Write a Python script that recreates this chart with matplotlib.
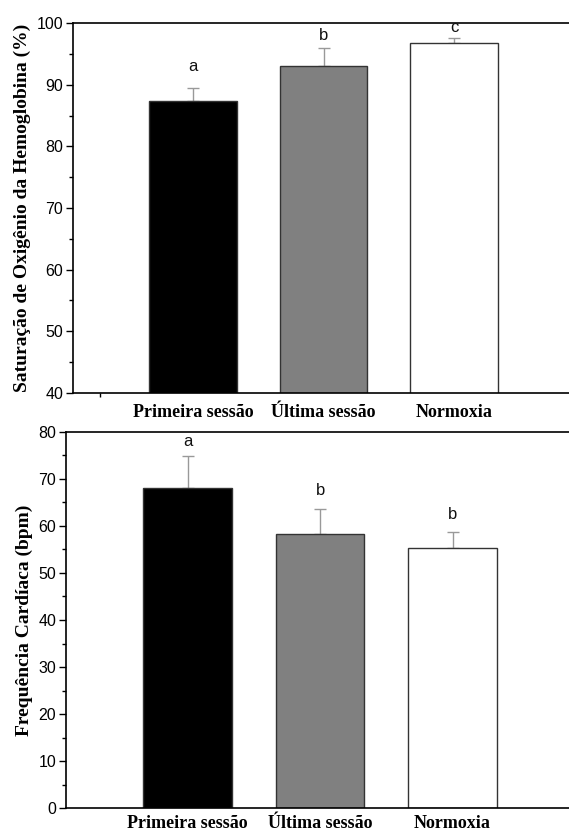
import matplotlib
matplotlib.use("Agg")
import matplotlib.pyplot as plt
from matplotlib.ticker import MultipleLocator

# categories and colours
grupos = ["Primeira sessão", "Última sessão", "Normoxia"]
cores = ["#000000", "#808080", "#ffffff"]

# saturacao de O2 (%)
spo2 = [87.4, 93.1, 96.8]
spo2_erro = [2.0, 2.8, 0.7]
spo2_letras = ["a", "b", "c"]
spo2_letras_y = [91.7, 96.8, 98.0]

# frequencia cardiaca (bpm)
fc = [68.0, 58.3, 55.2]
fc_erro = [6.8, 5.2, 3.5]
fc_letras = ["a", "b", "b"]
fc_letras_y = [76.3, 65.9, 60.9]

x = [1, 2, 3]

fig = plt.figure(figsize=(5.69, 8.34), dpi=100)
ax1 = fig.add_axes([0.1283, 0.5288, 0.8717, 0.4436])
ax2 = fig.add_axes([0.116, 0.0308, 0.884, 0.4516])


def painel(ax, vals, erros, letras, letras_y, ylim, major, ylabel, xpad):
    ax.bar(x, vals, width=0.67, color=cores, edgecolor="#333333", linewidth=1.0, zorder=2)
    ax.errorbar(x, vals, yerr=[[0, 0, 0], erros], fmt="none", ecolor="#999999",
                elinewidth=1.0, capsize=4, capthick=1.0, zorder=1)
    for xi, le, ly in zip(x, letras, letras_y):
        ax.text(xi, ly, le, ha="center", va="bottom", fontsize=12,
                family="Liberation Sans", color="#111111")
    ax.set_xlim(0.08, 3.88)
    ax.set_ylim(*ylim)
    ax.yaxis.set_major_locator(MultipleLocator(major))
    ax.yaxis.set_minor_locator(MultipleLocator(major / 2))
    ax.set_xticks(x)
    ax.set_xticklabels(grupos, family="Liberation Serif", fontweight="bold", fontsize=13)
    ax.tick_params(axis="x", length=0, pad=xpad)
    ax.tick_params(axis="y", which="major", length=5, width=1, direction="out",
                   labelsize=11.5, pad=2)
    ax.tick_params(axis="y", which="minor", length=3, width=1, direction="out")
    for lab in ax.get_yticklabels():
        lab.set_family("Liberation Sans")
    ax.spines["right"].set_visible(False)
    for s in ["left", "bottom", "top"]:
        ax.spines[s].set_linewidth(1.2)
    ax.set_ylabel(ylabel, family="Liberation Serif", fontweight="bold", fontsize=14, labelpad=4)


painel(ax1, spo2, spo2_erro, spo2_letras, spo2_letras_y, (40, 100), 10,
       "Saturação de Oxigênio da Hemoglobina (%)", 8)
painel(ax2, fc, fc_erro, fc_letras, fc_letras_y, (0, 80), 10,
       "Frequência Cardíaca (bpm)", 5)

# small stray tick on the first panel's x axis
ax1.set_xticks([0.29], minor=True)
ax1.tick_params(axis="x", which="minor", length=3, width=1, direction="out")

fig.savefig("out.png", dpi=100)
